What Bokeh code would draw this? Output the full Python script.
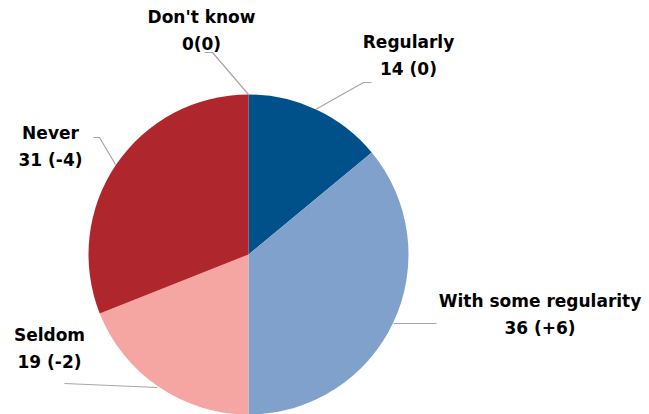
import math
from bokeh.plotting import figure
from bokeh.models import Range1d, ColumnDataSource
from bokeh.core.properties import value
from bokeh.embed import file_html
from bokeh.resources import INLINE

categories = ["Regularly", "With some regularity", "Seldom", "Never", "Don't know"]
values = [14, 36, 19, 31, 0]
changes = ["(0)", "(+6)", "(-2)", "(-4)", "(0)"]
colors = ["#00508A", "#7FA1CB", "#F5A6A3", "#B0262D", "#888888"]

# screen-pixel helpers (y is flipped)
H = 414
def sy(y):
    return H - y

W_PLOT, H_PLOT = 649, 414
p = figure(width=W_PLOT, height=H_PLOT, output_backend="svg", toolbar_location=None,
           x_range=Range1d(0, W_PLOT), y_range=Range1d(0, H_PLOT),
           min_border=0)
p.axis.visible = False
p.grid.visible = False
p.outline_line_color = None
p.background_fill_color = "white"

cx, cy, r = 248, sy(254), 160
total = sum(values)
starts, ends, cols = [], [], []
cum = 0
for v, c in zip(values, colors):
    s = math.pi / 2 - 2 * math.pi * cum / total
    cum += v
    e = math.pi / 2 - 2 * math.pi * cum / total
    if v > 0:
        starts.append(s)
        ends.append(e)
        cols.append(c)

src = ColumnDataSource(dict(start=starts, end=ends, color=cols))
p.wedge(x=cx, y=cy, radius=r, start_angle="start", end_angle="end",
        direction="clock", fill_color="color", line_color=None, source=src)

# leader lines (screen coordinates)
leaders = [
    [(315, 109), (363, 82), (371, 82)],
    [(393, 323), (436, 323)],
    [(157, 387), (64, 383)],
    [(115, 164), (99, 137), (93, 137)],
    [(248, 94), (212, 52), (204, 52)],
]
for pts in leaders:
    p.line([a for a, b in pts], [sy(b) for a, b in pts], line_color="#A6A6A6", line_width=1.2)

# label positions: center x, vertical middle of first line (screen px)
label_pos = [(408, 41.5), (539.5, 300), (49, 334.5), (50, 132), (201, 16.5)]
line_gap = 27
font = value("DejaVu Sans")
for cat, v, ch, (lx, ly) in zip(categories, values, changes, label_pos):
    second = f"{v}{ch}" if cat == "Don't know" else f"{v} {ch}"
    p.text(x=[lx, lx], y=[sy(ly), sy(ly + line_gap)], text=[cat, second],
           text_font=font, text_font_style="bold", text_font_size="17px",
           text_align="center", text_baseline="middle", text_color="#000000")

open("out.html", "w").write(file_html(p, INLINE))
